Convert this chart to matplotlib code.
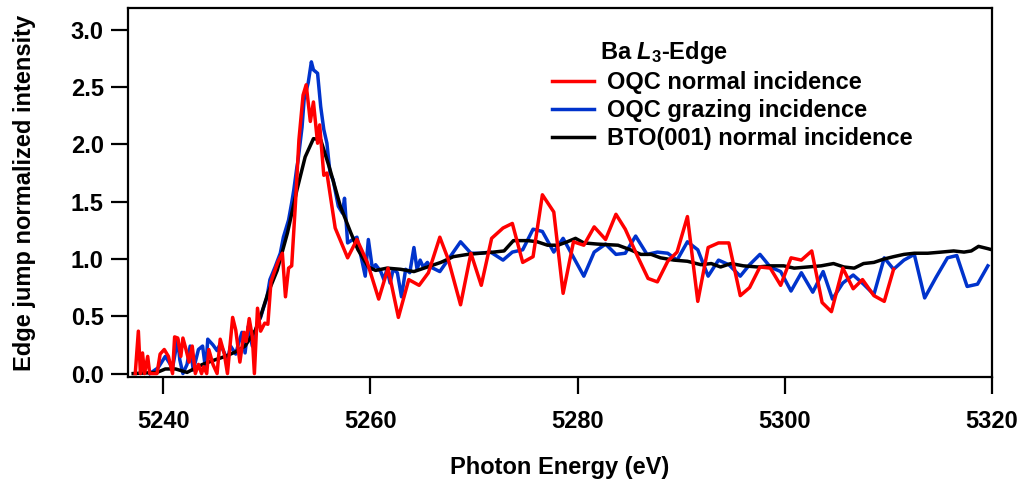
import matplotlib
matplotlib.use("Agg")
import matplotlib.pyplot as plt

# Ba L3-edge XANES: two OQC geometries and the BTO(001) reference
plt.rcParams['font.family'] = ['Liberation Sans', 'DejaVu Sans']
plt.rcParams['font.weight'] = 'bold'
plt.rcParams['mathtext.fontset'] = 'custom'
plt.rcParams['mathtext.rm'] = 'Liberation Sans:bold'
plt.rcParams['mathtext.it'] = 'Liberation Sans:italic:bold'
plt.rcParams['mathtext.bf'] = 'Liberation Sans:bold'

# OQC, normal incidence
e_normal = [5237.3, 5237.6, 5237.8, 5238.0, 5238.2, 5238.5, 5238.7, 5239.4, 5239.7, 5240.1,
            5240.5, 5240.9, 5241.1, 5241.4, 5241.7, 5241.9, 5242.2, 5242.5, 5242.8, 5243.1,
            5243.4, 5243.7, 5243.9, 5244.2, 5244.4, 5244.8, 5245.2, 5245.5, 5245.9, 5246.2,
            5246.7, 5247.0, 5247.4, 5247.8, 5248.0, 5248.3, 5248.6, 5248.8, 5249.1, 5249.4,
            5249.8, 5250.1, 5250.4, 5250.7, 5251.1, 5251.5, 5251.8, 5252.1, 5252.4, 5252.8,
            5253.1, 5253.5, 5253.8, 5254.2, 5254.5, 5254.9, 5255.1, 5255.5, 5255.8, 5256.6,
            5257.8, 5258.7, 5259.7, 5260.8, 5261.7, 5262.7, 5263.7, 5264.7, 5265.6, 5266.7,
            5267.5, 5268.7, 5269.7, 5270.7, 5271.7, 5272.8, 5273.7, 5274.7, 5275.7, 5276.6,
            5277.7, 5278.6, 5279.6, 5280.6, 5281.6, 5282.7, 5283.7, 5284.6, 5285.8, 5286.8,
            5287.7, 5288.7, 5289.6, 5290.6, 5291.6, 5292.6, 5293.6, 5294.6, 5295.7, 5296.6,
            5297.6, 5298.6, 5299.6, 5300.6, 5301.6, 5302.6, 5303.6, 5304.5, 5305.6, 5306.6,
            5307.5, 5308.6, 5309.6, 5310.5]
i_normal = [0.00, 0.37, 0.00, 0.18, 0.00, 0.15, 0.00, 0.00, 0.17, 0.21,
            0.15, 0.00, 0.32, 0.31, 0.15, 0.31, 0.21, 0.10, 0.24, 0.00,
            0.08, 0.00, 0.06, 0.00, 0.21, 0.08, 0.00, 0.30, 0.17, 0.00,
            0.49, 0.38, 0.10, 0.36, 0.28, 0.48, 0.32, 0.00, 0.57, 0.37,
            0.44, 0.43, 0.80, 0.88, 0.98, 1.05, 0.67, 0.92, 0.94, 1.54,
            2.04, 2.43, 2.52, 2.20, 2.37, 2.01, 2.17, 1.73, 1.75, 1.27,
            1.01, 1.17, 0.97, 0.65, 0.92, 0.49, 0.82, 0.77, 0.88, 1.19,
            1.00, 0.60, 1.05, 0.77, 1.18, 1.27, 1.31, 0.97, 1.02, 1.56,
            1.41, 0.70, 1.15, 1.12, 1.28, 1.17, 1.39, 1.26, 1.02, 0.83,
            0.80, 0.98, 1.06, 1.37, 0.63, 1.10, 1.14, 1.14, 0.68, 0.75,
            0.93, 0.92, 0.77, 1.01, 0.99, 1.07, 0.62, 0.54, 0.92, 0.74,
            0.82, 0.68, 0.63, 0.91]

# OQC, grazing incidence
e_grazing = [5238.7, 5239.5, 5240.2, 5240.9, 5241.4, 5241.6, 5241.9, 5242.3, 5242.6, 5242.9,
             5243.4, 5243.8, 5244.1, 5244.3, 5244.8, 5245.2, 5245.5, 5246.2, 5246.5, 5247.0,
             5247.2, 5247.6, 5247.9, 5248.2, 5248.6, 5249.1, 5249.4, 5249.7, 5250.0, 5250.3,
             5250.8, 5251.3, 5251.6, 5252.1, 5252.4, 5252.6, 5252.9, 5253.0, 5253.4, 5253.6,
             5254.0, 5254.3, 5254.5, 5254.9, 5255.2, 5255.5, 5255.8, 5256.1, 5256.4, 5256.9,
             5257.3, 5257.5, 5257.8, 5258.3, 5258.7, 5259.2, 5259.5, 5259.8, 5260.2, 5260.5,
             5261.0, 5261.3, 5261.6, 5261.9, 5262.2, 5262.6, 5263.0, 5263.4, 5263.8, 5264.2,
             5264.5, 5264.8, 5265.1, 5265.5, 5265.8, 5266.7, 5267.7, 5268.7, 5269.7, 5270.6,
             5271.6, 5272.8, 5273.7, 5274.7, 5275.7, 5276.6, 5277.7, 5278.6, 5280.6, 5281.6,
             5282.7, 5283.7, 5284.6, 5285.6, 5286.7, 5287.7, 5288.7, 5289.6, 5290.6, 5291.6,
             5292.6, 5293.6, 5294.6, 5295.7, 5296.6, 5297.6, 5298.6, 5299.6, 5300.6, 5301.6,
             5302.7, 5303.7, 5304.6, 5305.6, 5306.6, 5307.6, 5308.6, 5309.6, 5310.5, 5311.5,
             5312.5, 5313.5, 5314.6, 5315.7, 5316.6, 5317.6, 5318.6, 5319.6]
i_grazing = [0.00, 0.05, 0.15, 0.05, 0.30, 0.12, 0.00, 0.08, 0.24, 0.03,
             0.21, 0.24, 0.03, 0.30, 0.25, 0.20, 0.26, 0.12, 0.24, 0.17,
             0.24, 0.36, 0.18, 0.41, 0.24, 0.44, 0.49, 0.58, 0.66, 0.82,
             0.93, 1.05, 1.19, 1.34, 1.49, 1.60, 1.80, 1.85, 2.15, 2.39,
             2.54, 2.72, 2.65, 2.62, 2.33, 2.13, 2.01, 1.75, 1.69, 1.46,
             1.40, 1.53, 1.14, 1.17, 1.19, 0.98, 0.85, 1.17, 0.91, 0.95,
             0.89, 0.82, 0.91, 0.79, 0.91, 0.88, 0.67, 0.91, 0.88, 1.10,
             0.91, 0.99, 0.93, 0.97, 0.93, 0.89, 1.02, 1.15, 1.05, 1.05,
             1.06, 0.99, 1.06, 1.08, 1.26, 1.24, 1.06, 1.18, 0.85, 1.06,
             1.13, 1.04, 1.05, 1.20, 1.04, 1.06, 1.05, 0.99, 1.15, 1.08,
             0.85, 0.99, 0.95, 0.85, 0.95, 1.04, 0.93, 0.89, 0.72, 0.88,
             0.71, 0.89, 0.65, 0.79, 0.86, 0.78, 0.69, 1.01, 0.91, 0.99,
             1.04, 0.66, 0.84, 1.01, 1.03, 0.76, 0.78, 0.94]

# BTO(001) reference, normal incidence
e_bto = [5237.1, 5239.4, 5240.2, 5241.2, 5242.3, 5243.8, 5245.0, 5246.0, 5247.0, 5247.9,
         5248.9, 5249.4, 5250.1, 5251.0, 5252.0, 5252.9, 5253.7, 5254.5, 5255.2, 5256.1,
         5257.1, 5258.1, 5258.8, 5259.8, 5260.5, 5261.6, 5262.9, 5264.2, 5265.5, 5266.8,
         5268.0, 5269.4, 5270.6, 5271.9, 5272.9, 5273.8, 5275.2, 5276.1, 5277.1, 5278.1,
         5279.0, 5279.8, 5280.6, 5281.9, 5283.9, 5285.1, 5286.1, 5287.1, 5288.0, 5289.3,
         5290.6, 5291.9, 5292.9, 5293.8, 5294.8, 5296.0, 5297.4, 5298.6, 5299.9, 5300.9,
         5302.2, 5303.5, 5304.7, 5305.7, 5306.7, 5307.6, 5308.6, 5309.6, 5310.5, 5311.5,
         5312.5, 5313.8, 5315.1, 5316.3, 5317.3, 5318.0, 5318.7, 5319.6, 5320.0]
i_bto = [0.00, 0.01, 0.04, 0.04, 0.01, 0.08, 0.12, 0.15, 0.19, 0.24,
         0.38, 0.50, 0.70, 0.90, 1.23, 1.60, 1.89, 2.05, 2.04, 1.78,
         1.46, 1.23, 1.08, 0.93, 0.90, 0.92, 0.91, 0.89, 0.93, 0.97,
         1.02, 1.04, 1.05, 1.06, 1.07, 1.16, 1.16, 1.15, 1.12, 1.12,
         1.15, 1.18, 1.14, 1.13, 1.12, 1.08, 1.04, 1.04, 1.01, 0.99,
         0.98, 0.95, 0.96, 0.93, 0.96, 0.94, 0.93, 0.94, 0.94, 0.92,
         0.93, 0.94, 0.96, 0.93, 0.92, 0.96, 0.97, 1.00, 1.02, 1.04,
         1.05, 1.05, 1.06, 1.07, 1.06, 1.07, 1.11, 1.09, 1.08]

x_ticks = [5240, 5260, 5280, 5300, 5320]
y_ticks = [0.0, 0.5, 1.0, 1.5, 2.0, 2.5, 3.0]

fig = plt.figure(figsize=(10.2, 4.82), dpi=100)
ax = fig.add_axes([128 / 1020, 1 - 377 / 482, (992 - 128) / 1020, (377 - 8) / 482])

lw = 2.5
l_blue, = ax.plot(e_grazing, i_grazing, color='#0033cc', lw=lw, label='OQC grazing incidence')
l_black, = ax.plot(e_bto, i_bto, color='black', lw=lw, label='BTO(001) normal incidence')
l_red, = ax.plot(e_normal, i_normal, color='#ff0000', lw=lw, label='OQC normal incidence')

ax.set_xlim(5236.6, 5320)
ax.set_ylim(-0.03, 3.19)
ax.set_xticks(x_ticks)
ax.set_yticks(y_ticks)
ax.set_yticklabels([f'{v:.1f}' for v in y_ticks])

for s in ax.spines.values():
    s.set_linewidth(1.6)
ax.tick_params(axis='both', labelsize=17, width=1.6, direction='out')
ax.tick_params(axis='x', length=12.5, pad=11)
ax.tick_params(axis='y', length=12.5, pad=5)

ax.set_xlabel('Photon Energy (eV)', fontsize=17, fontweight='bold', labelpad=17)
ax.set_ylabel('Edge jump normalized intensity', fontsize=17, fontweight='bold', labelpad=25)

leg = ax.legend(handles=[l_red, l_blue, l_black], loc='upper left',
                bbox_to_anchor=(552 / 1020, 1 - 71 / 482), bbox_transform=fig.transFigure,
                frameon=False, fontsize=17, handlelength=1.8, handletextpad=0.55,
                labelspacing=0.22, borderpad=0, borderaxespad=0)

fig.text(600 / 1020, 1 - 52 / 482, 'Ba $L_3$-Edge', fontsize=17, fontweight='bold',
         ha='left', va='center')

fig.savefig('out.png', dpi=100)
